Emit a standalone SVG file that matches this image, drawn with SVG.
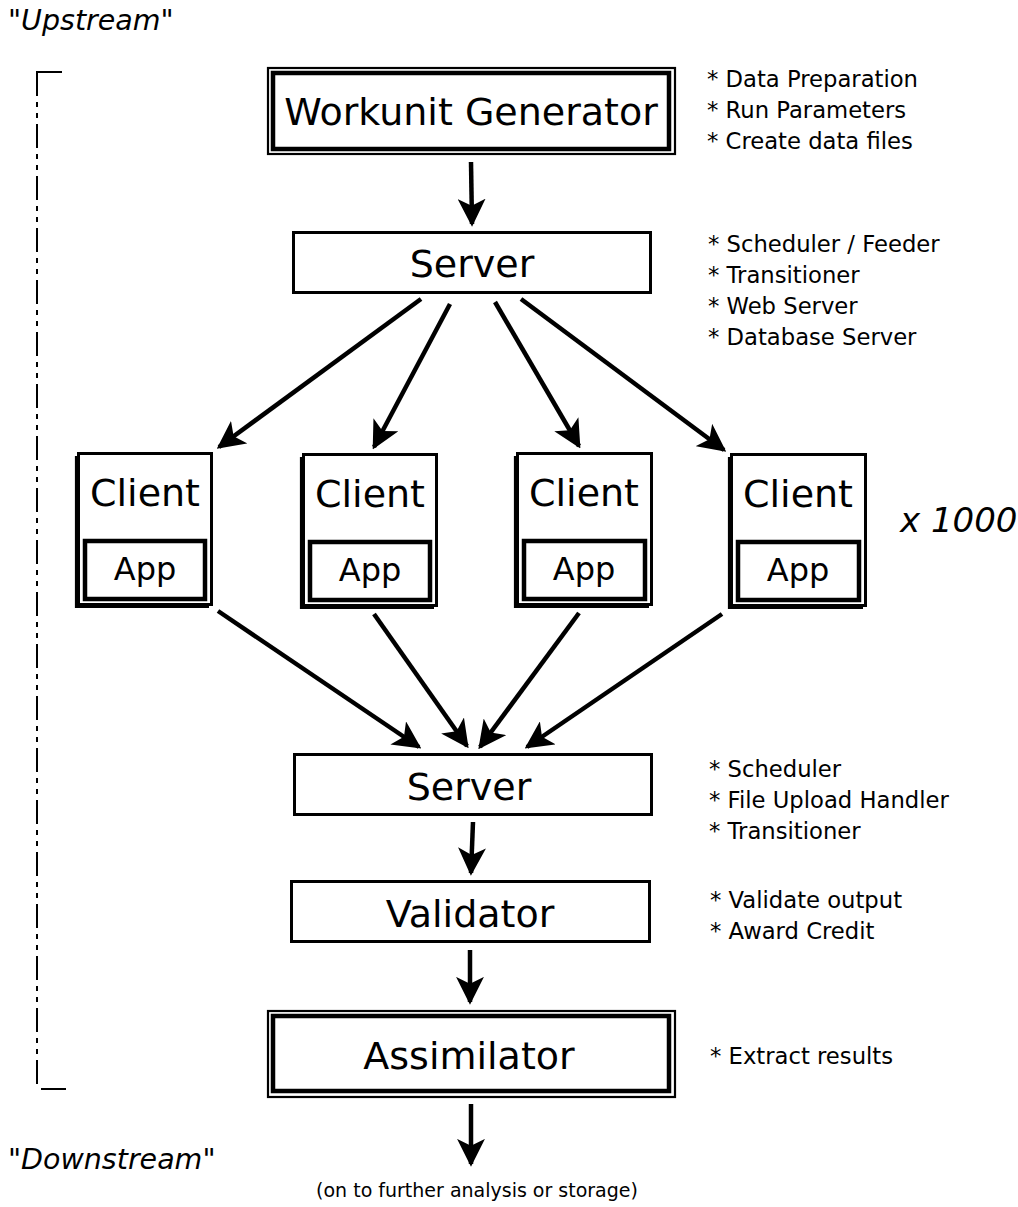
<svg xmlns="http://www.w3.org/2000/svg" width="1018" height="1207" viewBox="0 0 1018 1207">
<defs>
<style>
text{font-family:"DejaVu Sans","Liberation Sans",sans-serif;fill:#000}
.big{font-size:38px;text-anchor:middle}
.app{font-size:32px;text-anchor:middle}
.note{font-size:22.7px}
.box{fill:#fff;stroke:#000;stroke-width:3}
.thick{fill:#fff;stroke:#000;stroke-width:4.5}
.thin{fill:none;stroke:#000;stroke-width:2.2}
.arr{stroke:#000;stroke-width:4.5;fill:none;marker-end:url(#ah)}
</style>
<marker id="ah" viewBox="0 0 10 10" refX="9" refY="5" markerWidth="6.2" markerHeight="6.2" orient="auto" markerUnits="strokeWidth">
<path d="M0,0 L10,5 L0,10 L2.5,5 Z" fill="#000"/>
</marker>
</defs>
<rect width="1018" height="1207" fill="#fff"/>

<text x="8" y="30" style="font-size:28.5px">"<tspan font-style="italic">Upstream</tspan>"</text>
<text x="8" y="1169" style="font-size:28.5px">"<tspan font-style="italic">Downstream</tspan>"</text>
<g id="bracket">
<line x1="37" y1="72" x2="37" y2="1088" stroke="#000" stroke-width="2" stroke-dasharray="24 6 5 6 5 6"/>
<line x1="36" y1="72" x2="62" y2="72" stroke="#000" stroke-width="2"/>
<line x1="41" y1="1089" x2="66" y2="1089" stroke="#000" stroke-width="2"/>
</g>

<g id="workunit-generator">
<rect class="thin" x="268" y="68" width="407" height="86"/>
<rect class="thick" x="273" y="73" width="396" height="76"/>
<text class="big" x="471" y="125">Workunit Generator</text>
</g>
<g id="server1">
<rect class="box" x="293.5" y="232.5" width="357" height="60"/>
<text class="big" x="472" y="277">Server</text>
</g>

<g id="client1">
<polyline class="thin" points="76,456 76,607 209,607"/>
<rect class="box" x="78.5" y="453.5" width="133" height="151"/>
<text class="big" x="145" y="506">Client</text>
<rect class="thick" x="85" y="541" width="120" height="58"/>
<text class="app" x="145" y="580">App</text>
</g>
<g id="client2">
<polyline class="thin" points="301,457 301,608 434,608"/>
<rect class="box" x="303.5" y="454.5" width="133" height="151"/>
<text class="big" x="370" y="507">Client</text>
<rect class="thick" x="310" y="542" width="120" height="58"/>
<text class="app" x="370" y="581">App</text>
</g>
<g id="client3">
<polyline class="thin" points="515,456 515,607 649,607"/>
<rect class="box" x="517.5" y="453.5" width="134" height="151"/>
<text class="big" x="584" y="506">Client</text>
<rect class="thick" x="524" y="541" width="121" height="58"/>
<text class="app" x="584" y="580">App</text>
</g>
<g id="client4">
<polyline class="thin" points="729,457 729,608 863,608"/>
<rect class="box" x="731.5" y="454.5" width="134" height="151"/>
<text class="big" x="798" y="507">Client</text>
<rect class="thick" x="738" y="542" width="121" height="58"/>
<text class="app" x="798" y="581">App</text>
</g>

<g id="server2">
<rect class="box" x="294.5" y="754.5" width="357" height="60"/>
<text class="big" x="469" y="800">Server</text>
</g>
<g id="validator">
<rect class="box" x="291.5" y="881.5" width="358" height="60"/>
<text class="big" x="470" y="927">Validator</text>
</g>
<g id="assimilator">
<rect class="thin" x="268" y="1011" width="407" height="86"/>
<rect class="thick" x="273" y="1016" width="396" height="75"/>
<text class="big" x="469" y="1069">Assimilator</text>
</g>

<g id="connectors">
<line class="arr" x1="471" y1="162" x2="472" y2="224"/>
<line class="arr" x1="421" y1="299" x2="219" y2="447"/>
<line class="arr" x1="450" y1="304" x2="374" y2="447"/>
<line class="arr" x1="495" y1="302" x2="579" y2="446"/>
<line class="arr" x1="521" y1="299" x2="724" y2="450"/>
<line class="arr" x1="218" y1="611" x2="419" y2="747"/>
<line class="arr" x1="374" y1="614" x2="467" y2="746"/>
<line class="arr" x1="579" y1="613" x2="480" y2="747"/>
<line class="arr" x1="722" y1="614" x2="527" y2="747"/>
<line class="arr" x1="473" y1="822" x2="471" y2="873"/>
<line class="arr" x1="470" y1="950" x2="470" y2="1002"/>
<line class="arr" x1="471" y1="1104" x2="471" y2="1164"/>
</g>

<g id="notes">
<text class="note" x="707" y="87">* Data Preparation</text>
<text class="note" x="707" y="118">* Run Parameters</text>
<text class="note" x="707" y="149">* Create data files</text>
<text class="note" x="708" y="252">* Scheduler / Feeder</text>
<text class="note" x="708" y="283">* Transitioner</text>
<text class="note" x="708" y="314">* Web Server</text>
<text class="note" x="708" y="345">* Database Server</text>
<text class="note" x="709" y="777">* Scheduler</text>
<text class="note" x="709" y="808">* File Upload Handler</text>
<text class="note" x="709" y="839">* Transitioner</text>
<text class="note" x="710" y="908">* Validate output</text>
<text class="note" x="710" y="939">* Award Credit</text>
<text class="note" x="710" y="1064">* Extract results</text>
</g>
<text x="900" y="532" style="font-size:34px;font-style:italic">x 1000</text>
<text x="477" y="1197" style="font-size:19px;text-anchor:middle">(on to further analysis or storage)</text>
</svg>
